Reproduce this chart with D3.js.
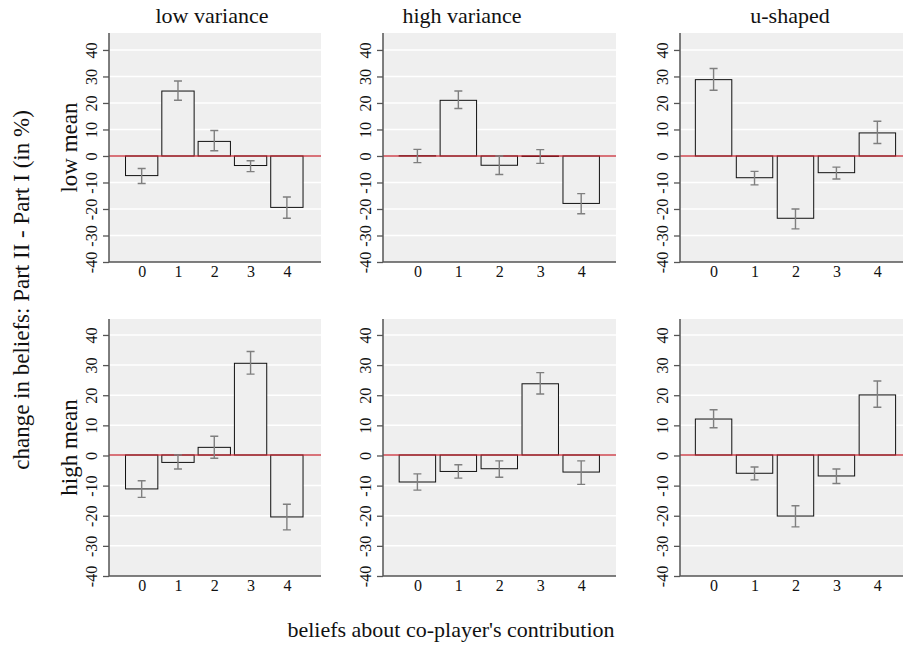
<!DOCTYPE html>
<html>
<head>
<meta charset="utf-8">
<script src="https://cdn.jsdelivr.net/npm/d3@7"></script>
<style>
  body { margin: 0; background: #fff; }
  svg { display: block; font-family: "Liberation Serif", "Times New Roman", serif; }
</style>
</head>
<body>
<div id="chart"></div>
<script>
const categories = [0, 1, 2, 3, 4]
const colTitles = ["low variance", "high variance", "u-shaped"]
const rowTitles = ["low mean", "high mean"]
const yTicks = [-40, -30, -20, -10, 0, 10, 20, 30, 40]

// mean change per panel (row, column)
const lowMeanLowVar = [-7.4, 24.5, 5.5, -3.6, -19.4]
const lowMeanHighVar = [0.1, 21.0, -3.5, -0.2, -17.9]
const lowMeanUShaped = [28.8, -8.2, -23.5, -6.3, 8.7]
const highMeanLowVar = [-11.1, -2.3, 2.7, 30.6, -20.4]
const highMeanHighVar = [-8.8, -5.3, -4.4, 23.8, -5.5]
const highMeanUShaped = [12.1, -5.9, -20.1, -6.8, 20.1]

// confidence interval bounds
const lowMeanLowVarLo = [-10.4, 21.0, 2.0, -5.9, -23.5]
const lowMeanLowVarHi = [-4.7, 28.3, 9.6, -1.8, -15.5]
const lowMeanHighVarLo = [-2.5, 17.9, -7.0, -2.8, -21.8]
const lowMeanHighVarHi = [2.5, 24.5, 0.0, 2.4, -14.2]
const lowMeanUShapedLo = [24.8, -10.9, -27.5, -8.7, 4.7]
const lowMeanUShapedHi = [33.0, -5.8, -20.0, -4.2, 13.1]
const highMeanLowVarLo = [-13.9, -4.5, -0.9, 27.0, -24.7]
const highMeanLowVarHi = [-8.4, 0.2, 6.4, 34.5, -16.2]
const highMeanHighVarLo = [-11.5, -7.5, -7.2, 20.4, -9.6]
const highMeanHighVarHi = [-6.1, -3.1, -1.8, 27.5, -1.8]
const highMeanUShapedLo = [9.2, -8.1, -23.7, -9.3, 16.0]
const highMeanUShapedHi = [15.2, -3.8, -16.7, -4.5, 24.7]

const panels = [
  [[lowMeanLowVar, lowMeanLowVarLo, lowMeanLowVarHi],
   [lowMeanHighVar, lowMeanHighVarLo, lowMeanHighVarHi],
   [lowMeanUShaped, lowMeanUShapedLo, lowMeanUShapedHi]],
  [[highMeanLowVar, highMeanLowVarLo, highMeanLowVarHi],
   [highMeanHighVar, highMeanHighVarLo, highMeanHighVarHi],
   [highMeanUShaped, highMeanUShapedLo, highMeanUShapedHi]]
]

const width = 903, height = 645
const colBox = [
  { left: 109, right: 321, domain: [-0.9, 4.94], title: 212 },
  { left: 383, right: 616, domain: [-0.84, 4.85], title: 462 },
  { left: 680, right: 913, domain: [-0.82, 4.87], title: 790 }
]
const rowBox = [
  { top: 33, bottom: 262, domain: [-40, 46.4] },
  { top: 319, bottom: 576, domain: [-40, 45.3] }
]
const barW = 0.89
const fmt = d => String(d)

const svg = d3.select("#chart").append("svg")
  .attr("width", width)
  .attr("height", height)
  .attr("viewBox", [0, 0, width, height])

svg.append("defs").append("clipPath").attr("id", "page")
  .append("rect").attr("width", width).attr("height", height)

rowBox.forEach((rb, r) => {
  colBox.forEach((cb, c) => {
    const [means, lo, hi] = panels[r][c]
    const x = d3.scaleLinear().domain(cb.domain).range([cb.left, cb.right])
    const y = d3.scaleLinear().domain(rb.domain).range([rb.bottom, rb.top])
    const g = svg.append("g").attr("clip-path", "url(#page)")
    const y0 = Math.round(y(0))

    g.append("rect")
      .attr("x", cb.left).attr("y", rb.top)
      .attr("width", cb.right - cb.left).attr("height", rb.bottom - rb.top)
      .attr("fill", "#efefef")

    g.append("g").selectAll("line")
      .data(yTicks.filter(t => t !== -40 && t !== 0))
      .join("line")
      .attr("x1", cb.left).attr("x2", cb.right)
      .attr("y1", d => y(d)).attr("y2", d => y(d))
      .attr("stroke", "#fff").attr("stroke-width", 1.5)

    g.append("g").selectAll("rect")
      .data(categories)
      .join("rect")
      .attr("x", d => x(d - barW / 2))
      .attr("width", x(barW) - x(0))
      .attr("y", (d, i) => Math.min(y0, y(means[i])))
      .attr("height", (d, i) => Math.abs(y(means[i]) - y0))
      .attr("fill", "#efefef")
      .attr("stroke", "#111").attr("stroke-width", 1)

    // zero reference line
    g.append("rect")
      .attr("x", cb.left).attr("width", cb.right - cb.left)
      .attr("y", y0 - 0.6).attr("height", 1.2)
      .attr("fill", "#c8202c")

    const eb = g.append("g").attr("stroke", "#7f7f7f").attr("stroke-width", 1.4).attr("fill", "none")
    categories.forEach((d, i) => {
      const cx = x(d)
      eb.append("path")
        .attr("d", `M${cx - 4},${y(hi[i])}H${cx + 4}M${cx},${y(hi[i])}V${y(lo[i])}M${cx - 4},${y(lo[i])}H${cx + 4}`)
    })

    // y axis
    const ya = g.append("g")
      .attr("transform", `translate(${cb.left},0)`)
      .call(d3.axisLeft(y).tickValues(yTicks).tickSize(6).tickFormat(fmt))
    ya.select(".domain").attr("d", `M0,${rb.top}V${rb.bottom}`).attr("stroke", "#555").attr("stroke-width", 1.5)
    ya.selectAll(".tick line").attr("stroke", "#555").attr("stroke-width", 1.3)
    ya.selectAll(".tick text")
      .attr("font-size", 16)
      .attr("fill", "#111")
      .attr("font-family", "Liberation Serif")
      .attr("transform", "rotate(-90,-12,0)")
      .attr("x", -12).attr("dy", 0).attr("y", 0)
      .attr("text-anchor", "middle")

    // x axis
    const xa = g.append("g")
      .attr("transform", `translate(0,${rb.bottom})`)
      .call(d3.axisBottom(x).tickValues(categories).tickSize(0).tickPadding(4).tickFormat(fmt))
    xa.select(".domain").attr("d", `M${cb.left},0H${cb.right}`).attr("stroke", "#555").attr("stroke-width", 1.5)
    xa.selectAll(".tick text")
      .attr("font-size", 16)
      .attr("fill", "#111")
      .attr("font-family", "Liberation Serif")

    if (r === 0) {
      svg.append("text")
        .attr("x", cb.title)
        .attr("y", 23)
        .attr("text-anchor", "middle")
        .attr("font-size", 22)
        .attr("fill", "#111")
        .text(colTitles[c])
    }
  })

  svg.append("text")
    .attr("transform", `translate(77,${(rb.top + rb.bottom) / 2}) rotate(-90)`)
    .attr("text-anchor", "middle")
    .attr("font-size", 23)
    .attr("fill", "#111")
    .text(rowTitles[r])
})

svg.append("text")
  .attr("transform", `translate(29,290) rotate(-90)`)
  .attr("text-anchor", "middle")
  .attr("font-size", 23)
  .attr("fill", "#111")
  .text("change in beliefs: Part II - Part I (in %)")

svg.append("text")
  .attr("x", 451)
  .attr("y", 637)
  .attr("text-anchor", "middle")
  .attr("font-size", 22)
  .attr("fill", "#111")
  .text("beliefs about co-player's contribution")
</script>
</body>
</html>
